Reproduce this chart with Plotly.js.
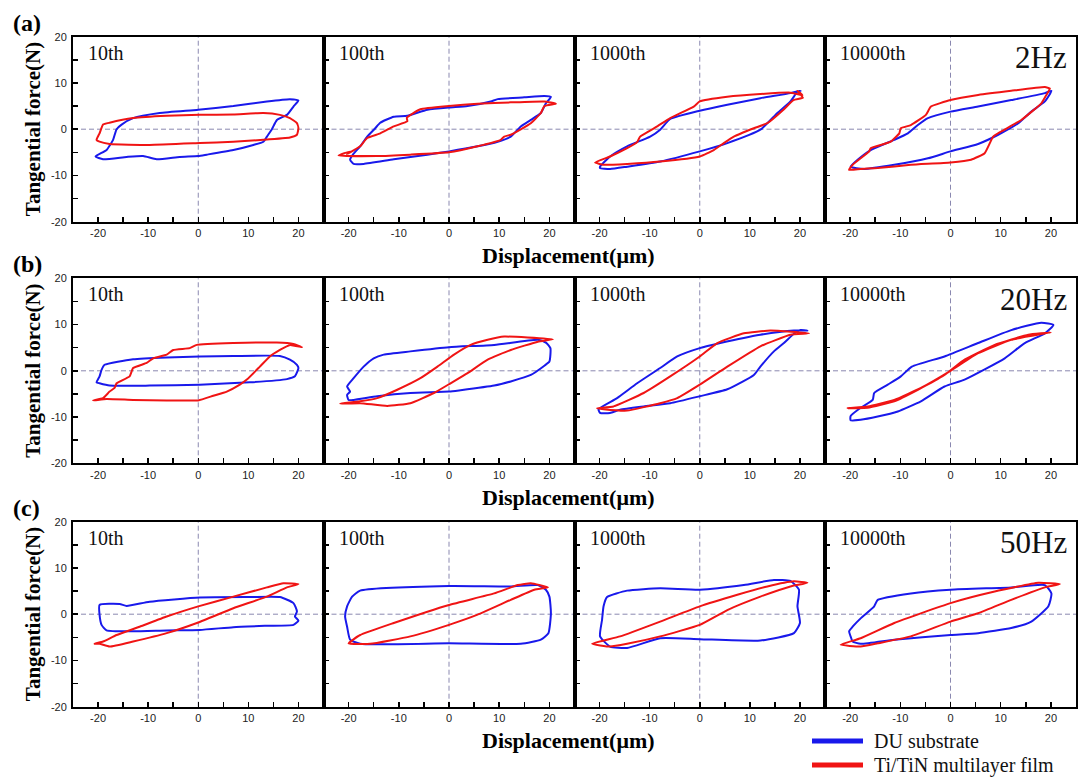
<!DOCTYPE html>
<html><head><meta charset="utf-8">
<script src="https://cdn.plot.ly/plotly-3.0.1.min.js"></script>
<style>body{margin:0;background:#fff}#c{width:1083px;height:778px}</style>
</head><body><div id="c"></div>
<script>
// ---- categories / labels ----
const rowLabels = ['(a)', '(b)', '(c)'];
const frequencies = ['2Hz', '20Hz', '50Hz'];
const cycles = ['10th', '100th', '1000th', '10000th'];
const tickVals = [-20, -10, 0, 10, 20];
const tickText = ['-20', '-10', '0', '10', '20'];
const seriesNames = ['DU substrate', 'Ti/TiN multilayer film'];

// ---- loops: [displacement(um), tangential force(N)] ----
// 2 Hz
const du_2Hz_10 = [[-20.5,-5.9],[-18.3,-4.5],[-17,-2.3],[-16.3,0],[-15.3,1],[-13,2.4],[-7.7,3.5],[0,4.2],[7,5],[13.7,6],[18.3,6.5],[20,6.2],[19,4.9],[17.7,3.1],[15.7,2],[14.7,0],[13.7,-1.6],[13,-2.7],[11,-3.4],[7,-4.5],[1.7,-5.5],[0,-5.8],[-3.7,-6],[-8.3,-6.5],[-11,-5.8],[-14.3,-6],[-19,-6.5],[-20.5,-5.9]];
const film_2Hz_10 = [[-20.3,-2.3],[-19.7,-0.9],[-19,1],[-17.7,1.4],[-13,2.4],[-6.3,2.9],[0.3,3.1],[7,3.2],[13,3.5],[16.3,3.1],[18.3,2.4],[19.7,1.3],[20,0.2],[19.7,-1.2],[18.3,-1.8],[13,-2.3],[7,-2.7],[0.3,-3],[-9.7,-3.4],[-17.7,-3.2],[-19.7,-2.7],[-20.3,-2.3]];
const du_2Hz_100 = [[-19.7,-6.6],[-19,-7.5],[-17,-7.5],[-11,-6.5],[-4.3,-5.5],[0,-4.8],[5.7,-3.7],[9.7,-2.7],[12.3,-1.6],[14.3,0.6],[16.3,2],[18.3,3.5],[19.3,5.6],[20.3,7],[19,7.2],[15,6.9],[9.7,6.5],[8.3,6],[3.7,5],[0,4.7],[-4.3,4.2],[-8.3,2.9],[-11,2.7],[-13.7,1.4],[-14.7,0.2],[-16.3,-1.6],[-17.7,-3.7],[-19,-5.3],[-19.7,-6.6]];
const film_2Hz_100 = [[-22,-5.7],[-19.7,-4.8],[-20.3,-5.4],[-17.7,-3.7],[-16.3,-1.9],[-13.7,-0.9],[-11,0.6],[-8.3,1.7],[-8.4,2.5],[-5.7,4.3],[0,5],[5.7,5.5],[12.3,5.8],[19,6],[21.3,5.5],[19,5],[18.3,3.5],[16.3,1.3],[12.3,-1.2],[11,-1.6],[10.3,-2.3],[5.7,-3.7],[0,-5],[-7.7,-5.5],[-14.3,-5.8],[-22,-5.7]];
const du_2Hz_1000 = [[-19.9,-8.4],[-17.9,-8.6],[-14.5,-8.1],[-7.9,-7],[0,-4.8],[5.5,-3],[12.1,-0.1],[15.5,3.5],[18.1,6],[19.5,8.1],[20.1,8.3],[18.1,7.8],[12.1,6.7],[5.5,5.3],[0,4],[-5.9,2.2],[-7.9,-0.1],[-9.9,-1.6],[-14.5,-3.7],[-17.9,-5.9],[-19.9,-8.1],[-19.9,-8.4]];
const film_2Hz_1000 = [[-20.9,-7.2],[-17.9,-5.9],[-14.5,-4.1],[-12.5,-2.8],[-11.9,-1.6],[-8.5,0.6],[-5.9,2.4],[-1.2,4.9],[0,6],[5.5,7],[12.1,7.6],[18.1,7.9],[20.5,7.4],[19.5,8.3],[20.6,6.8],[18.7,6.3],[16.7,4.2],[13.5,1.3],[10.8,0.2],[6.8,-1.6],[4.8,-3],[2.8,-4.5],[0,-5.9],[-7.9,-7],[-14.5,-7.5],[-19.2,-7.7],[-20.9,-7.2]];
const du_2Hz_10000 = [[-19.9,-8.1],[-17.2,-8.6],[-11.2,-7.7],[-4.5,-6.3],[0,-4.8],[5.5,-3.2],[9.5,-1.2],[13.5,1.3],[16.1,3.8],[18.8,6],[20.1,8.3],[18.8,7.8],[12.1,6.3],[5.5,4.9],[0,3.8],[-4.5,2.4],[-6.5,0.9],[-8.5,-0.9],[-11.2,-2.3],[-15.9,-4.5],[-18.5,-6.6],[-19.9,-8.1]];
const film_2Hz_10000 = [[-20.2,-8.8],[-19.5,-7.7],[-16.2,-4.8],[-15.9,-4.1],[-11.9,-2.7],[-10.2,-0.9],[-9.9,0.2],[-7.9,0.9],[-4.9,3.1],[-3.9,4.9],[0,6.3],[5.5,7.4],[12.1,8.3],[18.8,9.1],[19.8,8.8],[19.1,7.4],[18.1,5.6],[14.1,2],[10.1,-0.5],[8.5,-1.6],[6.8,-5.2],[4.1,-6.6],[0,-7.2],[-7.9,-7.7],[-14.5,-8.4],[-17.9,-8.6],[-20.2,-8.8]];
// 20 Hz
const du_20Hz_10 = [[-20.3,-2.5],[-19.7,-1.2],[-19.3,0.2],[-18.7,1.3],[-13,2.5],[-6.3,2.9],[0.3,3.1],[7,3.2],[16.3,3.2],[18.3,2.4],[19.7,1.3],[20,0.6],[19.3,-1.2],[17.7,-1.8],[10.3,-2.5],[0.3,-3],[-9.7,-3.2],[-17.7,-3.2],[-19.7,-2.7],[-20.3,-2.5]];
const film_20Hz_10 = [[-21,-6.4],[-19,-5.9],[-17.7,-4.5],[-16.7,-3.7],[-16.3,-2.7],[-13.7,-1.2],[-13,0.6],[-10.3,1.7],[-9,2.7],[-6.3,3.5],[-5,4.5],[-1.7,4.9],[-0.3,5.6],[7,6],[15.7,6.1],[19,5.8],[20.7,5.1],[18.3,5.6],[16.3,4.5],[14.3,3.1],[12.3,0.9],[9.7,-1.9],[8.3,-3],[5.7,-4.5],[3,-5.4],[0,-6.4],[-6.3,-6.4],[-13,-6.3],[-18.3,-6.1],[-21,-6.4]];
const du_20Hz_100 = [[-20,-6.3],[-20.3,-5.2],[-19.7,-4.5],[-20.3,-3.4],[-19,-1.6],[-17,0.9],[-15,2.7],[-13,3.5],[-7.7,4.2],[0,5.1],[9,5.6],[17.7,6.7],[19.3,6.1],[20.2,4.9],[20,2],[19,1.1],[16.3,-0.9],[12.3,-2.3],[9,-3.2],[2.3,-4.2],[0,-4.5],[-7.7,-4.8],[-14.3,-5.5],[-19,-6.3],[-20,-6.3]];
const film_20Hz_100 = [[-21.7,-7.1],[-17.7,-6.6],[-14.3,-5.9],[-10.3,-4.1],[-5.7,-1.6],[-2.3,0.9],[1,3.5],[4.3,5.6],[7.7,6.7],[11,7.4],[15.7,7.2],[20.7,6.8],[17.7,6.3],[12.3,4.5],[7.7,2.4],[3.7,-0.5],[0.3,-2.7],[-3,-4.8],[-7.7,-7],[-12.3,-7.6],[-17.7,-7],[-21.7,-7.1]];
const du_20Hz_1000 = [[-20.2,-8.3],[-19.9,-9.1],[-17.9,-9.1],[-15.9,-8.4],[-11.2,-7.7],[-5.9,-7],[0,-5.5],[5.5,-4],[10.8,-0.9],[12.1,0.9],[14.8,4.2],[16.8,6],[18.8,8],[20.1,8.8],[21.5,8.7],[18.8,8.7],[12.1,7.8],[4.1,6],[0,4.9],[-4.5,3.1],[-7.9,0.6],[-12.5,-2.7],[-16.5,-5.9],[-20.2,-8.3]];
const film_20Hz_1000 = [[-20.5,-8.1],[-17.2,-7.7],[-11.2,-4.8],[-5.9,-1.2],[0,3.1],[3.5,6],[8.8,8.1],[14.1,8.7],[21.8,8.1],[18.1,7.8],[12.1,5.3],[5.5,0.9],[0,-3],[-4.5,-5.9],[-7.9,-7],[-14.5,-8.6],[-19.2,-8.3],[-20.5,-8.1]];
const du_20Hz_10000 = [[-19.9,-10.7],[-17.9,-10.6],[-14.5,-9.9],[-10.5,-8.8],[-5.9,-6.6],[-1.2,-3.4],[2.8,-1.9],[10.8,2.7],[14.8,6],[18.8,8.1],[20.5,9.9],[18.1,10.4],[12.1,8.8],[5.5,6],[-1.2,3.1],[-7.7,0.9],[-9.9,-1.2],[-12.5,-3],[-15.2,-4.8],[-15.5,-6.3],[-17.9,-8],[-19.9,-9.8],[-19.9,-10.7]];
const film_20Hz_10000 = [[-20.5,-8.1],[-16.5,-7.7],[-11.2,-6.3],[-5.9,-3.7],[0,0],[5.5,3.8],[12.1,6.7],[20,8.3],[15.5,7.8],[8.8,5.6],[2.8,2.4],[-1.2,-0.9],[-6.5,-4.1],[-11.2,-6.6],[-16.5,-8],[-20.5,-8.1]];
// 50 Hz
const du_50Hz_10 = [[-19.7,2],[-19.7,-0.1],[-19.3,-2.3],[-18.3,-3.5],[-13,-3.7],[-6.3,-3.5],[0.3,-3.4],[7,-2.8],[13.7,-2.5],[19,-2.3],[20,-1.4],[19.3,-0.5],[19.7,0.6],[19,2.4],[16.3,3.7],[10.3,3.7],[0.3,3.6],[-9.7,2.7],[-14.3,1.8],[-15.7,2.2],[-19.7,2]];
const film_50Hz_10 = [[-20.7,-6.4],[-19,-5.9],[-16.3,-4.5],[-11.7,-2.7],[-6.3,-0.5],[0,1.7],[7,3.8],[13.7,5.8],[17,6.7],[20,6.5],[17.7,5.8],[13.7,3.8],[7,1.3],[0,-1.8],[-6.3,-4.1],[-13,-5.9],[-17.7,-7],[-19.7,-6.4],[-20.7,-6.4]];
const du_50Hz_100 = [[-17.7,5.1],[0,6.1],[12.3,6],[17.7,6.3],[19.3,5.3],[20,3.8],[20.3,0.2],[19.8,-4.1],[18.3,-5.5],[14.3,-6.4],[0,-6.3],[-17.7,-6.4],[-19.7,-5.5],[-20.3,-2.7],[-20.7,-0.5],[-20.3,1.7],[-19.3,3.8],[-17.7,5.1]];
const film_50Hz_100 = [[-20,-6.3],[-17.7,-4.5],[-11,-1.9],[0,2],[9,4.5],[13.7,6.3],[16.3,6.7],[19.7,5.8],[17,5.3],[12.3,3.1],[5.7,-0.1],[0,-2.3],[-7.7,-4.8],[-15.7,-6.4],[-20,-6.3]];
const du_50Hz_1000 = [[-18.5,3.7],[-14.5,5.1],[-7.9,5.6],[0,5.3],[8.8,6.3],[14.8,7.4],[18.1,7.2],[19.8,5.3],[19.5,1.7],[20,-1.9],[18.8,-4.1],[12.1,-5.7],[0,-5.4],[-7.9,-5.2],[-14.5,-7.3],[-17.9,-7],[-19.9,-4.8],[-19.5,-1.2],[-19.2,1.7],[-18.5,3.7]];
const film_50Hz_1000 = [[-21.5,-6.4],[-15.9,-4.8],[-7.9,-1.6],[0,1.7],[7.5,4.2],[13.5,6],[18.8,7.1],[21.5,6.8],[18.1,6],[12.1,3.8],[5.5,0.9],[0,-2.3],[-7.9,-4.8],[-14.5,-6.4],[-17.9,-7],[-21.5,-6.4]];
const du_50Hz_10000 = [[-19.9,-4.8],[-20.2,-3.7],[-19.5,-2.7],[-17.9,-0.9],[-15.2,1.7],[-14.5,3.1],[-7.9,4.5],[0,5.3],[12.1,5.8],[18.8,6.3],[20.1,4.5],[19.5,1.7],[16.1,-1.6],[12.1,-3],[5.5,-4.1],[0,-4.5],[-11.2,-5.5],[-17.9,-6.4],[-19.5,-5.9],[-19.9,-4.8]];
const film_50Hz_10000 = [[-21.9,-6.6],[-17.9,-5.2],[-11.2,-1.9],[0,2.4],[8.8,4.9],[17.5,6.8],[21.8,6.5],[18.8,5.8],[12.1,3.1],[5.5,0.2],[0,-1.6],[-7.9,-4.8],[-14.5,-6.3],[-17.9,-7],[-21.9,-6.6]];

const duLoops = [
  [du_2Hz_10, du_2Hz_100, du_2Hz_1000, du_2Hz_10000],
  [du_20Hz_10, du_20Hz_100, du_20Hz_1000, du_20Hz_10000],
  [du_50Hz_10, du_50Hz_100, du_50Hz_1000, du_50Hz_10000]
];
const filmLoops = [
  [film_2Hz_10, film_2Hz_100, film_2Hz_1000, film_2Hz_10000],
  [film_20Hz_10, film_20Hz_100, film_20Hz_1000, film_20Hz_10000],
  [film_50Hz_10, film_50Hz_100, film_50Hz_1000, film_50Hz_10000]
];

// ---- layout geometry (pixels) ----
const W = 1083, H = 778;
const colPx = [[73, 323.5], [323.5, 574.5], [574.5, 825], [825, 1076]];
const rowPx = [[36.7, 221.7], [278.3, 463.3], [521.7, 706.7]];
const fx = p => p / W, fy = p => 1 - p / H;

const BLUE = 'rgb(25,25,235)', RED = 'rgb(240,20,20)';
const serif = '"Liberation Serif", "Times New Roman", Times, serif';
const sans = '"Liberation Sans", Arial, sans-serif';

const data = [], shapes = [], annotations = [];
const layout = {
  width: W, height: H, margin: {l: 0, r: 0, t: 0, b: 0},
  paper_bgcolor: '#fff', plot_bgcolor: '#fff', showlegend: false,
  shapes: shapes, annotations: annotations
};

for (let r = 0; r < 3; r++) {
  for (let c = 0; c < 4; c++) {
    const i = r * 4 + c + 1, s = i === 1 ? '' : String(i);
    const common = {
      showline: true, linewidth: 2, linecolor: '#000', mirror: true,
      showgrid: false, zeroline: false, fixedrange: true,
      tickmode: 'array', tickvals: tickVals, ticktext: tickText,
      ticks: 'inside', ticklen: 5, tickwidth: 1.5, tickcolor: '#000',
      minor: {ticks: 'inside', tickmode: 'linear', tick0: 0, dtick: 5, ticklen: 5, tickwidth: 1.5, tickcolor: '#000', showgrid: false},
      tickfont: {family: sans, size: 11, color: '#222'}
    };
    layout['xaxis' + s] = Object.assign({}, common, {
      domain: [fx(colPx[c][0]), fx(colPx[c][1])], anchor: 'y' + s, range: [-25, 25]
    });
    layout['yaxis' + s] = Object.assign({}, common, {
      domain: [fy(rowPx[r][1]), fy(rowPx[r][0])], anchor: 'x' + s, range: [-20, 20],
      showticklabels: c === 0, ticklabelstandoff: 2
    });
    // dashed reference lines
    shapes.push({type: 'line', layer: 'below', xref: 'x' + s, yref: 'y' + s + ' domain', x0: 0, x1: 0, y0: 0, y1: 1,
      line: {color: '#8a88b0', width: 1, dash: '5px,3px'}});
    shapes.push({type: 'line', layer: 'below', xref: 'x' + s + ' domain', yref: 'y' + s, x0: 0, x1: 1, y0: 0, y1: 0,
      line: {color: '#8a88b0', width: 1, dash: '5px,3px'}});
    // traces
    const du = duLoops[r][c], film = filmLoops[r][c];
    data.push({type: 'scatter', mode: 'lines', name: seriesNames[0], xaxis: 'x' + s, yaxis: 'y' + s,
      x: du.map(p => p[0]), y: du.map(p => p[1]), line: {color: BLUE, width: 2, shape: 'spline', smoothing: 0.5}, hoverinfo: 'skip'});
    data.push({type: 'scatter', mode: 'lines', name: seriesNames[1], xaxis: 'x' + s, yaxis: 'y' + s,
      x: film.map(p => p[0]), y: film.map(p => p[1]), line: {color: RED, width: 2, shape: 'spline', smoothing: 0.4}, hoverinfo: 'skip'});
    // cycle label
    annotations.push({xref: 'paper', yref: 'paper', x: fx(colPx[c][0] + 13), y: fy(rowPx[r][0] + 16),
      xanchor: 'left', yanchor: 'middle', showarrow: false, text: cycles[c],
      font: {family: serif, size: 20, color: '#111'}});
  }
  // frequency
  annotations.push({xref: 'paper', yref: 'paper', x: fx(1069), y: fy(rowPx[r][0] + 21),
    xanchor: 'right', yanchor: 'middle', showarrow: false, text: frequencies[r],
    font: {family: serif, size: 31, color: '#111'}});
  // row label
  annotations.push({xref: 'paper', yref: 'paper', x: fx(11), y: fy(rowPx[r][0] - 14),
    xanchor: 'left', yanchor: 'middle', showarrow: false, text: '<b>' + rowLabels[r] + '</b>',
    font: {family: serif, size: 24, color: '#000'}});
  // y title
  annotations.push({xref: 'paper', yref: 'paper', x: fx(33), y: fy((rowPx[r][0] + rowPx[r][1]) / 2),
    xanchor: 'center', yanchor: 'middle', showarrow: false, textangle: -90,
    text: '<b>Tangential force(N)</b>', font: {family: serif, size: 21, color: '#000'}});
  // x title
  annotations.push({xref: 'paper', yref: 'paper', x: fx(568), y: fy(rowPx[r][1] + 34),
    xanchor: 'center', yanchor: 'middle', showarrow: false,
    text: '<b>Displacement(μm)</b>', font: {family: serif, size: 22, color: '#000'}});
}

// legend (bottom right)
const legendY = [741, 765], legendColors = [BLUE, RED];
for (let k = 0; k < 2; k++) {
  shapes.push({type: 'line', xref: 'paper', yref: 'paper', x0: fx(812), x1: fx(863), y0: fy(legendY[k]), y1: fy(legendY[k]),
    line: {color: legendColors[k], width: 5}});
  annotations.push({xref: 'paper', yref: 'paper', x: fx(872), y: fy(legendY[k]),
    xanchor: 'left', yanchor: 'middle', showarrow: false, text: seriesNames[k],
    font: {family: serif, size: 20, color: '#111'}});
}

Plotly.newPlot('c', data, layout, {displayModeBar: false, staticPlot: true});
</script></body></html>
